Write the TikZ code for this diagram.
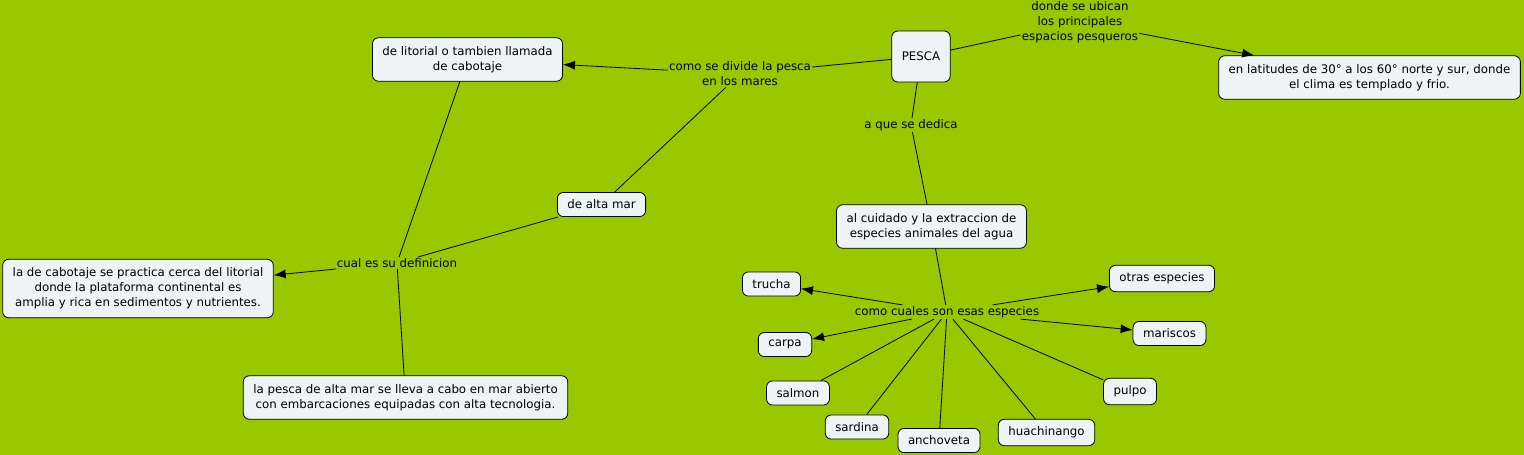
\documentclass[tikz,border=0pt]{standalone}
\usepackage{fontspec}
\setmainfont{DejaVu Sans}
\usetikzlibrary{arrows.meta}
\definecolor{fondo}{RGB}{153,200,0}
\definecolor{caja}{RGB}{238,243,246}
\begin{document}
\begin{tikzpicture}[x=1pt,y=-1pt,line width=0.8pt,
  every node/.style={font=\fontsize{11.8}{15}\selectfont,align=center},
  concepto/.style={draw,fill=caja,rounded corners=6pt,inner xsep=10pt,inner ysep=8.5pt},
  especie/.style={concepto,inner ysep=7.5pt},
  enlace/.style={inner sep=1pt},
  flecha/.style={-{Latex[length=12pt,width=9pt]}}]
\fill[fondo] (0,0) rectangle (1524,455);

\node[concepto,minimum width=58pt,minimum height=51pt] (pesca) at (921,56.5) {PESCA};
\node[concepto] (latitudes) at (1369.5,77.5) {en latitudes de 30° a los 60° norte y sur, donde\\el clima es templado y frio.};
\node[concepto] (litorial) at (467.5,59.5) {de litorial o tambien llamada\\de cabotaje};
\node[especie] (altamar) at (601.5,204.5) {de alta mar};
\node[concepto] (cuidado) at (931.5,226.5) {al cuidado y la extraccion de\\especies animales del agua};
\node[concepto] (cabotaje) at (138,288.5) {la de cabotaje se practica cerca del litorial\\donde la plataforma continental es\\amplia y rica en sedimentos y nutrientes.};
\node[concepto] (abierto) at (405.5,397.5) {la pesca de alta mar se lleva a cabo en mar abierto\\con embarcaciones equipadas con alta tecnologia.};

\node[especie] (trucha) at (771.5,284) {trucha};
\node[especie] (carpa) at (785,344.5) {carpa};
\node[especie] (salmon) at (798,393) {salmon};
\node[especie] (sardina) at (857,427) {sardina};
\node[especie] (anchoveta) at (939,440.5) {anchoveta};
\node[especie] (huachinango) at (1046.5,432.5) {huachinango};
\node[especie] (pulpo) at (1130,391.5) {pulpo};
\node[especie] (mariscos) at (1169.5,333.5) {mariscos};
\node[especie] (otras) at (1162,278.5) {otras especies};

\node[enlace] (ubican) at (1080,22) {donde se ubican\\los principales\\espacios pesqueros};
\node[enlace] (divide) at (740,74) {como se divide la pesca\\en los mares};
\node[enlace] (dedica) at (911,125) {a que se dedica};
\node[enlace] (definicion) at (397,263) {cual es su definicion};
\node[enlace] (cuales) at (947,312) {como cuales son esas especies};

\draw (pesca) -- (ubican);
\draw[flecha] (ubican) -- (latitudes);
\draw (pesca) -- (divide);
\draw[flecha] (divide) -- (litorial);
\draw (divide) -- (altamar);
\draw (pesca) -- (dedica);
\draw (dedica) -- (cuidado);
\draw (litorial) -- (definicion);
\draw (altamar) -- (definicion);
\draw[flecha] (definicion) -- (cabotaje);
\draw (definicion) -- (abierto);
\draw (cuidado) -- (cuales);

\foreach \e in {trucha,carpa,mariscos,otras}
  \draw[flecha] (cuales) -- (\e);
\foreach \e in {salmon,sardina,anchoveta,huachinango,pulpo}
  \draw (cuales) -- (\e);
\end{tikzpicture}
\end{document}
